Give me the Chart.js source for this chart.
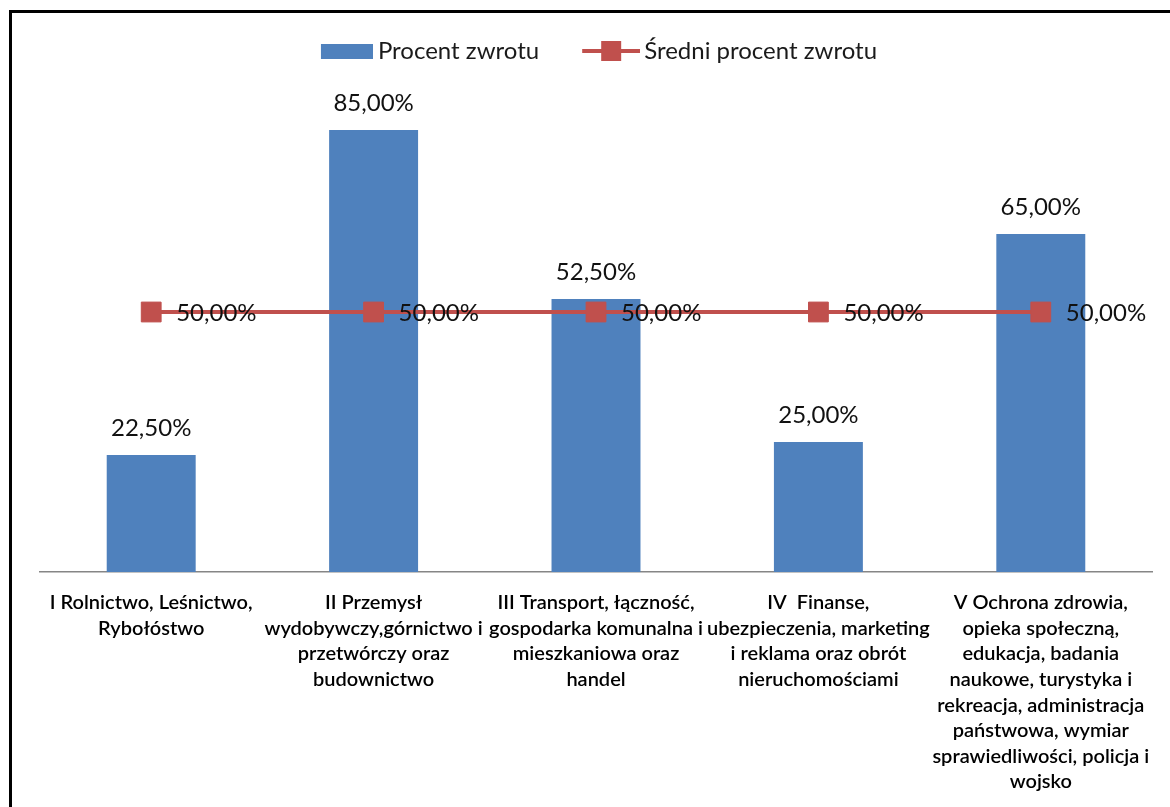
<!DOCTYPE html>
<html>
<head>
<meta charset="utf-8">
<title>Procent zwrotu</title>
<script src="https://cdn.jsdelivr.net/npm/chart.js@4/dist/chart.umd.min.js"></script>
<style>
  html, body { margin: 0; padding: 0; background: #fff; }
  #wrap { position: relative; width: 1170px; height: 807px; }
</style>
</head>
<body>
<div id="wrap"><canvas id="zwrot" width="1170" height="807"></canvas></div>
<script>
// sektory (etykiety osi X, łamane ręcznie)
const sektory = [
  ['I Rolnictwo, Leśnictwo,', 'Rybołóstwo'],
  ['II Przemysł', 'wydobywczy,górnictwo i', 'przetwórczy oraz', 'budownictwo'],
  ['III Transport, łączność,', 'gospodarka komunalna i', 'mieszkaniowa oraz', 'handel'],
  ['IV  Finanse,', 'ubezpieczenia, marketing', 'i reklama oraz obrót', 'nieruchomościami'],
  ['V Ochrona zdrowia,', 'opieka społeczną,', 'edukacja, badania', 'naukowe, turystyka i', 'rekreacja, administracja', 'państwowa, wymiar', 'sprawiedliwości, policja i', 'wojsko']
];
const procentZwrotu = [22.5, 85, 52.5, 25, 65];
const sredniProcent = [50, 50, 50, 50, 50];

const NIEBIESKI = '#4F81BD';
const CZERWONY = '#C0504D';
const FONT = 'Lato, "Open Sans", sans-serif';

const fmt = v => v.toFixed(2).replace('.', ',') + '%';

// ikonki legendy: widoczna część przy prawej krawędzi, po lewej pusto (odstęp między pozycjami)
function ikonaSlupka() {
  const c = document.createElement('canvas');
  c.width = 97; c.height = 15;
  const g = c.getContext('2d');
  g.fillStyle = NIEBIESKI;
  g.fillRect(97 - 52, 0, 52, 15);
  return c;
}
function ikonaLinii() {
  const c = document.createElement('canvas');
  c.width = 99; c.height = 20;
  const g = c.getContext('2d');
  const x0 = 99 - 58;
  g.fillStyle = CZERWONY;
  g.fillRect(x0, 8, 58, 4);
  g.fillRect(x0 + 19, 0, 20, 20);
  return c;
}
const ikony = [ikonaLinii(), ikonaSlupka()];

// etykiety wartości
const etykiety = {
  id: 'etykiety',
  afterDatasetsDraw(chart) {
    const ctx = chart.ctx;
    ctx.save();
    ctx.font = '24px ' + FONT;
    ctx.fillStyle = '#111';
    ctx.textBaseline = 'middle';
    chart.data.datasets.forEach((ds, i) => {
      const meta = chart.getDatasetMeta(i);
      meta.data.forEach((el, j) => {
        const txt = fmt(ds.data[j]);
        if (ds.type === 'line') {
          ctx.textAlign = 'left';
          ctx.fillText(txt, el.x + 25, el.y + 1);
        } else {
          ctx.textAlign = 'center';
          ctx.fillText(txt, el.x, el.y - 27);
        }
      });
    });
    ctx.restore();
  }
};

// ramka wykresu
const ramka = {
  id: 'ramka',
  afterDraw(chart) {
    const ctx = chart.ctx;
    ctx.save();
    ctx.strokeStyle = '#000';
    ctx.lineWidth = 3;
    ctx.beginPath();
    ctx.moveTo(10.5, 807);
    ctx.lineTo(10.5, 11.5);
    ctx.lineTo(1170, 11.5);
    ctx.stroke();
    ctx.restore();
  }
};

// odstęp pod legendą i lekkie przesunięcie jej w lewo
const odstepLegendy = {
  id: 'odstepLegendy',
  beforeInit(chart) {
    const fit = chart.legend.fit;
    chart.legend.fit = function () {
      fit.call(this);
      this.height += 31;
    };
  },
  afterLayout(chart) {
    chart.legend.left -= 16;
    chart.legend.right -= 16;
  }
};

new Chart(document.getElementById('zwrot'), {
  type: 'bar',
  data: {
    labels: sektory,
    datasets: [
      {
        type: 'line',
        label: 'Średni procent zwrotu',
        data: sredniProcent,
        borderColor: CZERWONY,
        backgroundColor: CZERWONY,
        borderWidth: 4,
        tension: 0,
        pointStyle: 'rect',
        pointRadius: 14,
        pointHoverRadius: 14,
        pointBackgroundColor: CZERWONY,
        pointBorderColor: CZERWONY,
        pointBorderWidth: 1
      },
      {
        type: 'bar',
        label: 'Procent zwrotu',
        data: procentZwrotu,
        backgroundColor: NIEBIESKI,
        borderWidth: 0,
        categoryPercentage: 1,
        barPercentage: 0.4
      }
    ]
  },
  options: {
    responsive: false,
    animation: false,
    layout: { padding: { top: 29, left: 40, right: 18, bottom: 0 } },
    plugins: {
      tooltip: { enabled: false },
      legend: {
        position: 'top',
        reverse: true,
        labels: {
          usePointStyle: true,
          pointStyleWidth: 83,
          padding: 10,
          color: '#1a1a1a',
          font: { family: FONT, size: 24 },
          generateLabels(chart) {
            const orig = Chart.defaults.plugins.legend.labels.generateLabels(chart);
            orig.forEach(l => { l.pointStyle = ikony[l.datasetIndex]; });
            return orig;
          }
        }
      }
    },
    scales: {
      x: {
        offset: true,
        afterFit(axis) { axis.height = 235; },
        grid: { display: false, drawTicks: false },
        border: { display: true, color: '#868686', width: 1.5 },
        ticks: {
          autoSkip: false,
          maxRotation: 0,
          minRotation: 0,
          padding: 18,
          color: '#000',
          font: { family: FONT, size: 20, weight: '600', lineHeight: 1.28 }
        }
      },
      y: {
        display: false,
        min: 0,
        max: 90
      }
    }
  },
  plugins: [etykiety, ramka, odstepLegendy]
});
</script>
</body>
</html>
